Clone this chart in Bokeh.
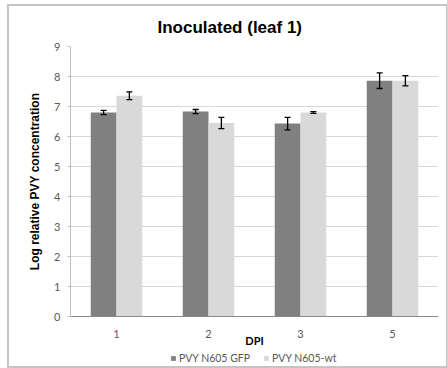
from bokeh.plotting import figure
from bokeh.layouts import column
from bokeh.models import (ColumnDataSource, FactorRange, Range1d, Whisker, Legend,
                          LegendItem, FixedTicker)
from bokeh.transform import dodge
from bokeh.embed import file_html
from bokeh.resources import INLINE

# Days post inoculation and log relative PVY concentration per construct
dpi = ["1", "2", "3", "5"]
gfp_mean = [6.80, 6.83, 6.43, 7.86]
gfp_err = [0.07, 0.07, 0.21, 0.26]
wt_mean = [7.36, 6.45, 6.80, 7.86]
wt_err = [0.13, 0.19, 0.03, 0.17]
series_names = ["PVY N605 GFP", "PVY N605-wt"]
y_ticks = [0, 1, 2, 3, 4, 5, 6, 7, 8, 9]

DARK = "#808080"
LIGHT = "#d9d9d9"
TEXT = "#595959"
TICK_FONT = "Lato"

src = ColumnDataSource(dict(
    dpi=dpi,
    gfp=gfp_mean,
    gfp_lo=[m - e for m, e in zip(gfp_mean, gfp_err)],
    gfp_hi=[m + e for m, e in zip(gfp_mean, gfp_err)],
    wt=wt_mean,
    wt_lo=[m - e for m, e in zip(wt_mean, wt_err)],
    wt_hi=[m + e for m, e in zip(wt_mean, wt_err)],
))

p = figure(
    width=437, height=344,
    x_range=FactorRange(factors=dpi, range_padding=0),
    y_range=Range1d(0, 9),
    output_backend="svg", toolbar_location=None,
    min_border_left=61, min_border_right=8, min_border_top=39, min_border_bottom=34,
    title="Inoculated (leaf 1)",
)
p.background_fill_color = "white"
p.border_fill_color = "white"
p.outline_line_color = None

# title
p.title.text_font = "Liberation Sans"
p.title.text_font_style = "bold"
p.title.text_font_size = "17px"
p.title.text_color = "#000000"
p.title.align = "left"
p.title.offset = 87
p.title.standoff = 19

# bars
bw = 0.28
r_gfp = p.vbar(x=dodge("dpi", -0.14, range=p.x_range), top="gfp", width=bw, source=src,
               fill_color=DARK, line_color=None)
r_wt = p.vbar(x=dodge("dpi", 0.14, range=p.x_range), top="wt", width=bw, source=src,
              fill_color=LIGHT, line_color=None)

# error bars, drawn over the bars
for col, off in (("gfp", -0.14), ("wt", 0.14)):
    w = Whisker(base=dodge("dpi", off, range=p.x_range), lower=col + "_lo", upper=col + "_hi",
                source=src, line_color="#000000", line_width=1.3, level="overlay")
    w.upper_head.size = 6
    w.lower_head.size = 6
    w.upper_head.line_color = "#000000"
    w.lower_head.line_color = "#000000"
    w.upper_head.line_width = 1.3
    w.lower_head.line_width = 1.3
    p.add_layout(w)

# axes
p.yaxis.ticker = FixedTicker(ticks=y_ticks)
p.yaxis.axis_line_color = "#bfbfbf"
p.yaxis.major_tick_line_color = "#bfbfbf"
p.yaxis.major_tick_out = 3
p.yaxis.major_tick_in = 0
p.yaxis.minor_tick_line_color = None
p.yaxis.major_label_standoff = 7
p.yaxis.major_label_text_font = TICK_FONT
p.yaxis.major_label_text_font_size = "11px"
p.yaxis.major_label_text_color = TEXT
p.yaxis.axis_label = "Log relative PVY concentration"
p.yaxis.axis_label_text_font = "Liberation Sans"
p.yaxis.axis_label_text_font_style = "bold"
p.yaxis.axis_label_text_font_size = "12px"
p.yaxis.axis_label_text_color = "#000000"
p.yaxis.axis_label_standoff = 9

p.xaxis.axis_line_color = "#8c8c8c"
p.xaxis.major_tick_line_color = None
p.xaxis.major_tick_out = 0
p.xaxis.major_tick_in = 0
p.xaxis.major_label_standoff = 13
p.xaxis.major_label_text_font = TICK_FONT
p.xaxis.major_label_text_font_size = "11px"
p.xaxis.major_label_text_color = TEXT
p.xaxis.axis_label = "DPI"
p.xaxis.axis_label_text_font = TICK_FONT
p.xaxis.axis_label_text_font_style = "bold"
p.xaxis.axis_label_text_font_size = "11px"
p.xaxis.axis_label_text_color = "#000000"
p.xaxis.axis_label_standoff = -7

p.xgrid.grid_line_color = None
p.ygrid.grid_line_color = "#d9d9d9"
p.ygrid.grid_line_width = 1

# legend strip under the chart; its bars have no width or height and lie
# outside the visible y range, so only their swatches appear in the legend
leg = figure(width=437, height=16, x_range=FactorRange(factors=dpi, range_padding=0),
             y_range=Range1d(-2, -1),
             output_backend="svg", toolbar_location=None,
             x_axis_location=None, y_axis_location=None,
             min_border_left=0, min_border_right=0, min_border_top=0, min_border_bottom=0)
leg.grid.visible = False
leg.outline_line_color = None
leg.background_fill_color = "white"
leg.border_fill_color = "white"
sw_gfp = leg.vbar(x="dpi", top="gfp", bottom="gfp", width=0, source=src,
                  fill_color=DARK, line_color=None)
sw_wt = leg.vbar(x="dpi", top="wt", bottom="wt", width=0, source=src,
                 fill_color=LIGHT, line_color=None)
legend = Legend(items=[LegendItem(label=series_names[0], renderers=[sw_gfp]),
                       LegendItem(label=series_names[1], renderers=[sw_wt])],
                orientation="horizontal", location=(100, 1),
                glyph_width=6, glyph_height=6, label_height=14, label_standoff=3,
                spacing=13, padding=0, margin=0,
                border_line_color=None, background_fill_alpha=0,
                label_text_font=TICK_FONT, label_text_font_size="10.5px",
                label_text_color=TEXT)
leg.add_layout(legend, "center")

# thin grey chart border around the whole layout
chart = column(p, leg, spacing=0,
               styles={"margin-left": "9px", "margin-top": "6px",
                       "outline": "2px solid #c4c4c4"})

open("out.html", "w").write(file_html(chart, INLINE))
